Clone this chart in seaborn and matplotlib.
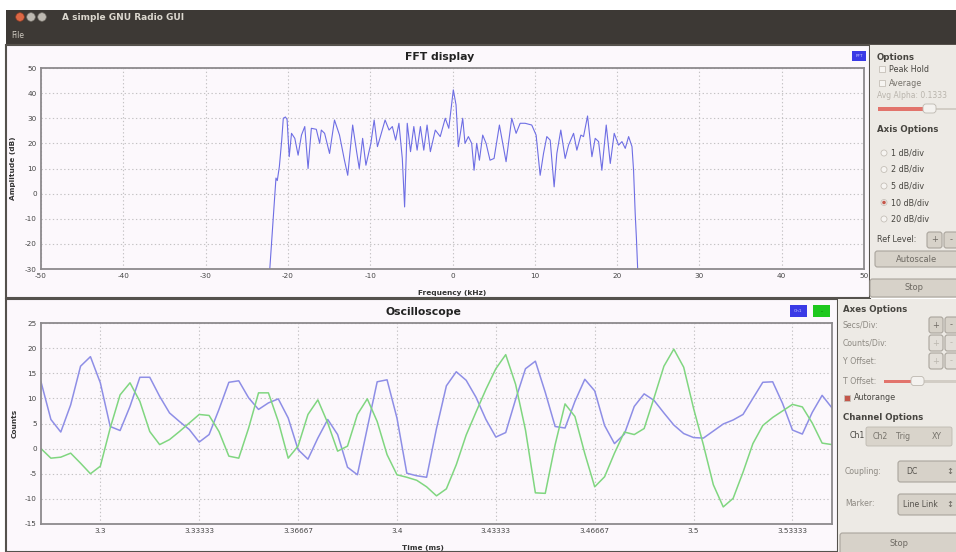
import numpy as np
import pandas as pd
import matplotlib
matplotlib.use("Agg")
import matplotlib.pyplot as plt
from matplotlib.patches import Rectangle, FancyBboxPatch, Circle
from matplotlib.ticker import FixedLocator, FuncFormatter
import seaborn as sns

# ---- data ----
fft_freq_khz = [-22.2, -21.77, -21.45, -21.29, -21.04, -20.75, -20.56, -20.3, -20.1, -19.84,
                -19.56, -19.16, -18.76, -18.35, -17.95, -17.55, -17.15, -16.55, -16.14, -15.94,
                -15.54, -14.94, -14.34, -13.73, -13.13, -12.73, -12.13, -11.65, -11.33, -10.92,
                -10.52, -9.92, -9.52, -9.12, -8.71, -8.19, -7.71, -7.31, -6.91, -6.51,
                -6.10, -5.82, -5.50, -5.10, -4.70, -4.30, -3.90, -3.49, -3.09, -2.69,
                -2.09, -1.49, -0.88, -0.45, 0.10, 0.43, 0.71, 1.24, 1.52, 1.93,
                2.33, 2.62, 2.94, 3.27, 3.67, 4.08, 4.56, 5.05, 5.70, 6.51,
                7.20, 7.73, 8.22, 8.82, 9.63, 10.16, 10.65, 11.06, 11.46, 11.87,
                12.35, 12.68, 13.16, 13.69, 14.10, 14.71, 15.11, 15.60, 15.92, 16.41,
                16.94, 17.34, 17.75, 18.15, 18.68, 19.17, 19.65, 20.18, 20.59, 20.99,
                21.40, 21.81, 22.0, 22.2, 22.35, 22.5]
fft_db = [-30, -9.2, 6.2, 5.2, 10.7, 21.3, 30, 30.5, 29.5, 14.7,
          24, 22, 15.3, 23.3, 26.7, 10, 26, 25.6, 20, 25.3,
          24, 16, 29.3, 23.3, 13.3, 7.3, 27.3, 16.7, 10, 22,
          11.3, 20, 29.3, 18.7, 23.3, 29.3, 25.3, 26.7, 21.3, 28,
          14, -5.3, 28, 16.7, 26.7, 17.3, 26.7, 17.3, 27.3, 16.7,
          25.3, 22.7, 30, 26, 41.3, 35.3, 18.7, 30, 20, 22.7,
          20, 9.3, 20, 13.3, 23.3, 20, 13.3, 14, 27.3, 12.7,
          30, 24, 28, 28, 27.3, 23.3, 7.3, 16, 22.7, 21.3,
          2.7, 16, 25.3, 14, 19.3, 24, 17.3, 23.3, 22.7, 30.9,
          14.7, 22, 20.7, 9.3, 27.3, 12, 24, 19.3, 20.7, 18,
          22.7, 18.7, 9.3, -8, -18, -30]

scope_start_ms = 3.28
scope_rate_khz = 300.0
ch1_counts = [13.3, 5.8, 3.3, 8.7, 16.4, 18.3, 13.1, 4.4, 3.6, 8.4,
              14.2, 14.2, 10.4, 7.1, 5.4, 3.8, 1.3, 2.8, 7.8, 13.2,
              13.5, 10.1, 7.8, 9.1, 9.9, 6.1, -0.2, -2.1, 2.1, 5.8,
              2.8, -3.7, -5.2, 4.1, 13.3, 13.7, 6.1, -4.9, -5.4, -5.7,
              4.0, 12.5, 15.3, 13.6, 10.2, 5.8, 2.3, 3.2, 9.8, 15.9,
              17.4, 11.2, 4.4, 4.1, 9.4, 13.8, 11.5, 4.6, 1.0, 2.9,
              8.4, 10.9, 9.6, 7.1, 4.7, 3.0, 2.2, 2.1, 3.5, 4.9,
              5.7, 6.8, 10.0, 13.2, 13.3, 9.0, 3.7, 2.9, 7.2, 10.6, 8.1]
ch2_counts = [0.0, -1.9, -1.7, -0.9, -2.9, -5.0, -3.5, 4.1, 10.7, 13.1,
              9.4, 3.4, 0.8, 1.8, 3.4, 5.1, 6.8, 6.6, 3.4, -1.5,
              -1.9, 4.1, 11.1, 11.1, 5.4, -1.9, 0.5, 6.8, 9.7, 5.1,
              -0.5, 0.5, 6.8, 9.9, 5.4, -1.2, -5.2, -5.7, -6.3, -7.6,
              -9.4, -8.0, -3.2, 2.7, 7.3, 11.8, 15.9, 18.7, 12.8, 3.7,
              -8.8, -8.9, 0.8, 8.9, 6.4, -1.0, -7.6, -5.6, -0.9, 3.3,
              2.8, 4.0, 10.1, 16.4, 19.8, 16.2, 8.0, 0.7, -7.2, -11.6,
              -9.9, -4.7, 1.0, 4.6, 6.2, 7.5, 8.8, 8.3, 5.1, 1.1, 0.8]

fft_xticks = [-50, -40, -30, -20, -10, 0, 10, 20, 30, 40, 50]
fft_yticks = [-30, -20, -10, 0, 10, 20, 30, 40, 50]
scope_xticks = [3.3, 3.33333, 3.36667, 3.4, 3.43333, 3.46667, 3.5, 3.53333]
scope_yticks = [-15, -10, -5, 0, 5, 10, 15, 20, 25]

db_options = ["1 dB/div", "2 dB/div", "5 dB/div", "10 dB/div", "20 dB/div"]

t_ms = scope_start_ms + np.arange(len(ch1_counts)) / scope_rate_khz
scope_df = pd.concat([
    pd.DataFrame({"t": t_ms, "counts": ch1_counts, "ch": "Ch1"}),
    pd.DataFrame({"t": t_ms, "counts": ch2_counts, "ch": "Ch2"}),
])

# ---- theme ----
sns.set_theme(style="white")
plt.rcParams['font.family'] = ['DejaVu Sans']
plt.rcParams['axes.unicode_minus'] = False

W, H = 956, 552
fig = plt.figure(figsize=(W / 100, H / 100), dpi=100, facecolor='white')

# background "window" drawn in pixel coordinates
bg = fig.add_axes([0, 0, 1, 1])
bg.set_xlim(0, W)
bg.set_ylim(H, 0)
bg.axis('off')

PLOT_BG = '#fcf8fc'
PANEL_BG = '#edeae5'
TXT = '#474540'
GREY_TXT = '#8d8982'


def rect(x0, y0, x1, y1, fc, ec='none', lw=0.0, z=1):
    bg.add_patch(Rectangle((x0, y0), x1 - x0, y1 - y0, fc=fc, ec=ec, lw=lw, zorder=z))


def button(x0, y0, x1, y1, label, fc='#d7d2c9', color='#6e6a63', size=6):
    bg.add_patch(FancyBboxPatch((x0, y0), x1 - x0, y1 - y0,
                                boxstyle="round,pad=0,rounding_size=2.5",
                                fc=fc, ec='#aaa59d', lw=0.8, zorder=3))
    if label:
        bg.text((x0 + x1) / 2, (y0 + y1) / 2, label, ha='center', va='center',
                fontsize=size, color=color, zorder=4)


def txt(x, y, s, size=6, weight='normal', color=TXT, ha='left'):
    bg.text(x, y, s, ha=ha, va='center', fontsize=size, fontweight=weight,
            color=color, zorder=4)


def checkbox(x, y, checked=False):
    fc = '#c4574a' if checked else '#f6f4f1'
    rect(x - 3, y - 3, x + 3, y + 3, fc, ec='#c5c0b8', lw=0.6, z=3)


def radio(x, y, selected=False):
    bg.add_patch(Circle((x, y), 3.0, fc='#f6f4f1', ec='#c5c0b8', lw=0.6, zorder=3))
    if selected:
        bg.add_patch(Circle((x, y), 1.8, fc='#c4574a', ec='none', zorder=4))


# title bar
rect(6, 10, W, 45, '#3d3935')
rect(6, 43.5, W, 45, '#57524c', z=2)
bg.add_patch(Circle((20, 17), 4.3, fc='#dc6744', ec='#8a3c26', lw=0.5, zorder=3))
bg.add_patch(Circle((31, 17), 4.3, fc='#bdb9b1', ec='#6f6b64', lw=0.5, zorder=3))
bg.add_patch(Circle((42, 17), 4.3, fc='#bdb9b1', ec='#6f6b64', lw=0.5, zorder=3))
txt(62, 17, "A simple GNU Radio GUI", size=6.5, weight='bold', color='#dcd8cf')
txt(11, 35, "File", size=5.5, color='#cfcac1')

# plot panels and control panels
rect(6, 45, 870, 298, PLOT_BG, ec='#55524d', lw=1.5)
rect(870, 45, W, 298, PANEL_BG)
rect(6, 299, 838, H, PLOT_BG, ec='#55524d', lw=1.5)
rect(838, 299, W, H, PANEL_BG)

txt(440, 57, "FFT display", size=7.8, weight='bold', color='#222222', ha='center')
txt(423, 312, "Oscilloscope", size=7.8, weight='bold', color='#222222', ha='center')

# legend boxes
rect(852, 51, 866, 61, '#3a3ae6', z=3)
txt(859, 56, "FFT", size=3.2, color='#c8c8ff', ha='center')
rect(790, 305, 807, 317, '#3a3ae6', z=3)
txt(798.5, 311, "Ch1", size=3.2, color='#c8c8ff', ha='center')
rect(813, 305, 830, 317, '#1ec81e', z=3)
txt(821.5, 312, "-", size=4, color='#0a5a0a', ha='center')

# FFT control panel
txt(877, 57, "Options", size=6.2, weight='bold')
checkbox(882, 69)
txt(889, 69, "Peak Hold", size=5.8)
checkbox(882, 83)
txt(889, 83, "Average", size=5.8, color='#75716a')
txt(877, 96, "Avg Alpha: 0.1333", size=5.5, color='#b9b4ac')
rect(878, 107, 924, 110.5, '#e2746c', z=3)
rect(936, 107.5, W, 110, '#d2cdc5', z=3)
bg.add_patch(FancyBboxPatch((923, 104), 13, 9, boxstyle="round,pad=0,rounding_size=3",
                            fc='#f4f2ef', ec='#bdb8b0', lw=0.6, zorder=4))
txt(877, 129, "Axis Options", size=6.2, weight='bold')
for k, lab in enumerate(db_options):
    yy = 153 + k * 16.5
    radio(884, yy, selected=(lab == "10 dB/div"))
    txt(891, yy, lab, size=5.8)
txt(877, 240, "Ref Level:", size=5.8)
button(927, 232, 942, 248, "+")
button(944, 232, 958, 248, "-")
button(875, 251, 958, 267, "Autoscale")
button(870, 279, 958, 297, "Stop")

# scope control panel
txt(843, 310, "Axes Options", size=6.2, weight='bold')
txt(843, 325, "Secs/Div:", size=5.6, color=GREY_TXT)
button(929, 317, 943, 333, "+")
button(945, 317, 958, 333, "-")
txt(843, 343, "Counts/Div:", size=5.6, color=GREY_TXT)
button(929, 335, 943, 351, "+", fc='#e3dfd9', color='#bbb6ae')
button(945, 335, 958, 351, "-", fc='#e3dfd9', color='#bbb6ae')
txt(843, 361, "Y Offset:", size=5.6, color=GREY_TXT)
button(929, 353, 943, 369, "+", fc='#e3dfd9', color='#bbb6ae')
button(945, 353, 958, 369, "-", fc='#e3dfd9', color='#bbb6ae')
txt(843, 381, "T Offset:", size=5.6, color=GREY_TXT)
rect(884, 379.5, 912, 383, '#e2746c', z=3)
rect(924, 380, W, 382.5, '#d2cdc5', z=3)
bg.add_patch(FancyBboxPatch((911, 376.5), 13, 9, boxstyle="round,pad=0,rounding_size=3",
                            fc='#f4f2ef', ec='#bdb8b0', lw=0.6, zorder=4))
checkbox(847, 398, checked=True)
txt(854, 398, "Autorange", size=5.8)
txt(843, 418, "Channel Options", size=6.2, weight='bold')
txt(850, 436, "Ch1", size=5.6)
bg.add_patch(FancyBboxPatch((866, 427), 86, 19, boxstyle="round,pad=0,rounding_size=2",
                            fc='#d9d4cb', ec='#bdb8b0', lw=0.6, zorder=3))
txt(880, 436.5, "Ch2", size=5.6, color='#77736c', ha='center')
txt(903, 436.5, "Trig", size=5.6, color='#77736c', ha='center')
txt(937, 436.5, "XY", size=5.6, color='#77736c', ha='center')
txt(845, 471, "Coupling:", size=5.6, color=GREY_TXT)
button(898, 461, 958, 482, "")
txt(906, 471.5, "DC", size=5.6, color='#55524c')
txt(950, 471.5, "\u2195", size=6, color='#66625b', ha='center')
txt(845, 504, "Marker:", size=5.6, color=GREY_TXT)
button(898, 494, 958, 515, "")
txt(903, 504.5, "Line Link", size=5.6, color='#55524c')
txt(950, 504.5, "\u2195", size=6, color='#66625b', ha='center')
button(840, 533, 958, 554, "Stop")


def px_axes(x0, y0, x1, y1):
    return fig.add_axes([x0 / W, 1 - y1 / H, (x1 - x0) / W, (y1 - y0) / H])


def style_axes(ax):
    ax.set_facecolor(PLOT_BG)
    for sp in ax.spines.values():
        sp.set_color('#8d8a8d')
        sp.set_linewidth(1.3)
    ax.grid(True, color='#c4c2c4', linestyle=(0, (1.2, 2.2)), linewidth=0.8)
    ax.tick_params(length=0, labelsize=5.2, labelcolor='#444444', pad=3)


# ---- FFT plot ----
ax1 = px_axes(41, 68, 864, 269)
sns.lineplot(x=fft_freq_khz, y=fft_db, ax=ax1, color='#6e6ee4', linewidth=0.8,
             sort=False)
ax1.set_xlim(-50, 50)
ax1.set_ylim(-30, 50)
ax1.xaxis.set_major_locator(FixedLocator(fft_xticks))
ax1.yaxis.set_major_locator(FixedLocator(fft_yticks))
style_axes(ax1)
ax1.set_xlabel("Frequency (kHz)", fontsize=5.3, fontweight='bold', color='#333333')
ax1.set_ylabel("Amplitude (dB)", fontsize=5.3, fontweight='bold', color='#333333')
ax1.xaxis.set_label_coords(0.5, -0.105)
ax1.yaxis.set_label_coords(-0.03, 0.5)

# ---- Oscilloscope plot ----
ax2 = px_axes(41, 323, 832, 524)
sns.lineplot(data=scope_df, x="t", y="counts", hue="ch", ax=ax2,
             palette={"Ch1": '#8e8ee6', "Ch2": '#80d680'}, linewidth=1.1,
             legend=False)
ax2.set_xlim(scope_start_ms, t_ms[-1])
ax2.set_ylim(-15, 25)
ax2.xaxis.set_major_locator(FixedLocator(scope_xticks))
ax2.xaxis.set_major_formatter(FuncFormatter(lambda v, p: f"{v:.6g}"))
ax2.yaxis.set_major_locator(FixedLocator(scope_yticks))
style_axes(ax2)
ax2.set_xlabel("Time (ms)", fontsize=5.3, fontweight='bold', color='#333333')
ax2.set_ylabel("Counts", fontsize=5.3, fontweight='bold', color='#333333')
ax2.xaxis.set_label_coords(0.483, -0.105)
ax2.yaxis.set_label_coords(-0.03, 0.5)

fig.savefig("out.png", dpi=100, facecolor='white')
